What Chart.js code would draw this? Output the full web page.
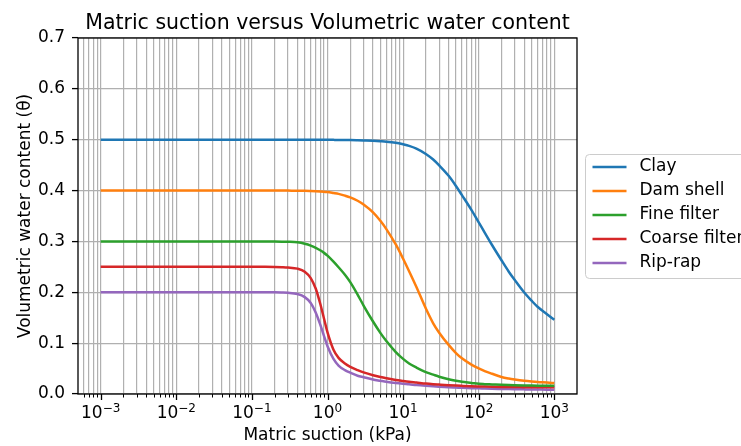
<!DOCTYPE html>
<html>
<head>
<meta charset="utf-8">
<title>Matric suction versus Volumetric water content</title>
<script src="https://cdn.jsdelivr.net/npm/chart.js@4.4.1/dist/chart.umd.min.js"></script>
<style>
  html, body { margin: 0; padding: 0; background: #fff; }
  #wrap { width: 741px; height: 446px; }
</style>
</head>
<body>
<div id="wrap"><canvas id="swcc" width="741" height="446"></canvas></div>
<script>
// Matric suction (kPa), shared by every soil curve
const suction = [0.001, 0.01, 0.1, 0.15, 0.2, 0.25, 0.3,
  0.4, 0.5, 0.6, 0.7, 0.8, 0.9,
  1, 1.2, 1.4, 1.7, 2,
  2.5, 3, 4, 5, 6, 8,
  10, 12, 15, 20, 25, 30,
  40, 50, 60, 80,
  100, 120, 150, 200, 250, 300,
  400, 500, 600, 800, 1000];

// Volumetric water content for each material
const clay = [0.5, 0.5, 0.5, 0.5, 0.5, 0.5, 0.5,
  0.5, 0.5, 0.5, 0.5, 0.4999, 0.4999,
  0.4998, 0.4997, 0.4996, 0.4994, 0.4993,
  0.4989, 0.4985, 0.4978, 0.497, 0.4962, 0.494,
  0.491, 0.488, 0.4825, 0.472, 0.461, 0.4495,
  0.429, 0.409, 0.391, 0.362,
  0.3375, 0.3175, 0.293, 0.263, 0.2405, 0.224,
  0.1995, 0.1835, 0.1715, 0.157, 0.146];
const damShell = [0.4, 0.4, 0.4, 0.4, 0.4, 0.4, 0.3999,
  0.3998, 0.3995, 0.399, 0.3985, 0.398, 0.3975,
  0.397, 0.3952, 0.3935, 0.390, 0.3865,
  0.380, 0.3725, 0.357, 0.3405, 0.3243, 0.294,
  0.266, 0.2415, 0.2105, 0.168, 0.139, 0.1205,
  0.0965, 0.0805, 0.0702, 0.0577,
  0.0502, 0.0451, 0.0398, 0.0335, 0.0304, 0.0285,
  0.026, 0.0245, 0.0235, 0.0225, 0.0215];
const fineFilter = [0.3, 0.3, 0.3, 0.2999, 0.2998, 0.2996, 0.2993,
  0.2982, 0.2955, 0.2919, 0.2875, 0.2826, 0.2775,
  0.272, 0.2602, 0.2492, 0.2345, 0.220,
  0.1955, 0.174, 0.1425, 0.1202, 0.1042, 0.0825,
  0.069, 0.060, 0.052, 0.043, 0.038, 0.034,
  0.029, 0.026, 0.024, 0.0218,
  0.020, 0.0194, 0.0188, 0.018, 0.0175, 0.0172,
  0.0168, 0.0165, 0.0163, 0.0161, 0.016];
const coarseFilter = [0.25, 0.25, 0.25, 0.25, 0.2498, 0.2494, 0.2488,
  0.2465, 0.2405, 0.228, 0.207, 0.178, 0.148,
  0.121, 0.087, 0.071, 0.060, 0.0535,
  0.047, 0.0425, 0.037, 0.0335, 0.031, 0.0275,
  0.0255, 0.024, 0.0225, 0.0205, 0.0193, 0.0185,
  0.0173, 0.0165, 0.016, 0.0153,
  0.0149, 0.0146, 0.0143, 0.014, 0.0138, 0.0137,
  0.0135, 0.0134, 0.0133, 0.0132, 0.0131];
const ripRap = [0.2, 0.2, 0.2, 0.2, 0.2, 0.1996, 0.199,
  0.1965, 0.1905, 0.179, 0.160, 0.137, 0.114,
  0.094, 0.069, 0.056, 0.047, 0.042,
  0.036, 0.033, 0.0285, 0.026, 0.024, 0.0215,
  0.020, 0.019, 0.0175, 0.016, 0.015, 0.0143,
  0.0133, 0.0127, 0.0122, 0.0115,
  0.0111, 0.0107, 0.0103, 0.0099, 0.0096, 0.0094,
  0.0091, 0.0089, 0.0088, 0.0086, 0.0085];

const seriesNames = ['Clay', 'Dam shell', 'Fine filter', 'Coarse filter', 'Rip-rap'];
const seriesValues = [clay, damShell, fineFilter, coarseFilter, ripRap];
const seriesColors = ['#1f77b4', '#ff7f0e', '#2ca02c', '#d62728', '#9467bd'];

// axis ticks
const decades = [-3, -2, -1, 0, 1, 2, 3];
const yTicks = [0, 0.1, 0.2, 0.3, 0.4, 0.5, 0.6, 0.7];

const chartTitle = 'Matric suction versus Volumetric water content';

const FONT = '"DejaVu Sans", "Liberation Sans", sans-serif';
Chart.defaults.font.family = FONT;
Chart.defaults.color = '#000';

const GRID = '#b0b0b0';

// grid on every 1..9 multiple of each decade, like a full log grid
function logGridTicks(scale) {
    const ticks = [];
    for (let e = -4; e <= 3; e++) {
        for (let m = 1; m <= 9; m++) {
            const v = m * Math.pow(10, e);
            if (v >= scale.min && v <= scale.max) {
                ticks.push({ value: v, major: m === 1 });
            }
        }
    }
    scale.ticks = ticks;
}

// title, frame, x tick marks with 10^n labels, and the legend right of the plot
const axesDecor = {
    id: 'axesDecor',
    afterDatasetsDraw(chart) {
        const { ctx, chartArea } = chart;
        const xs = chart.scales.x;
        ctx.save();

        // title centred over the plot area
        ctx.fillStyle = '#000';
        ctx.font = '20.5px ' + FONT;
        ctx.textAlign = 'center';
        ctx.textBaseline = 'alphabetic';
        ctx.fillText(chartTitle, (chartArea.left + chartArea.right) / 2, chartArea.top - 8.7);

        // spines
        ctx.strokeStyle = '#000';
        ctx.lineWidth = 1.3;
        ctx.strokeRect(chartArea.left, chartArea.top, chartArea.right - chartArea.left, chartArea.bottom - chartArea.top);

        // x tick marks, long for decades and short for the rest
        xs.ticks.forEach(t => {
            const px = Math.round(xs.getPixelForValue(t.value)) + 0.5;
            ctx.lineWidth = t.major ? 1.3 : 1;
            ctx.beginPath();
            ctx.moveTo(px, chartArea.bottom);
            ctx.lineTo(px, chartArea.bottom + (t.major ? 6 : 3.5));
            ctx.stroke();
        });

        // decade labels
        ctx.textAlign = 'left';
        decades.forEach(e => {
            const px = xs.getPixelForValue(Math.pow(10, e));
            const base = '10';
            const exp = (e < 0 ? '\u2212' : '') + Math.abs(e);
            ctx.font = '17px ' + FONT;
            const wb = ctx.measureText(base).width;
            ctx.font = '12px ' + FONT;
            const we = ctx.measureText(exp).width;
            const x0 = px - (wb + we) / 2;
            ctx.font = '17px ' + FONT;
            ctx.fillText(base, x0, chartArea.bottom + 24);
            ctx.font = '12px ' + FONT;
            ctx.fillText(exp, x0 + wb, chartArea.bottom + 17.5);
        });

        // legend
        const lx = chartArea.right + 8.5;
        const ly = chartArea.top + 116.5;
        const lw = 180, lh = 124, r = 4;
        ctx.beginPath();
        ctx.moveTo(lx + r, ly);
        ctx.lineTo(lx + lw - r, ly);
        ctx.arcTo(lx + lw, ly, lx + lw, ly + r, r);
        ctx.lineTo(lx + lw, ly + lh - r);
        ctx.arcTo(lx + lw, ly + lh, lx + lw - r, ly + lh, r);
        ctx.lineTo(lx + r, ly + lh);
        ctx.arcTo(lx, ly + lh, lx, ly + lh - r, r);
        ctx.lineTo(lx, ly + r);
        ctx.arcTo(lx, ly, lx + r, ly, r);
        ctx.closePath();
        ctx.fillStyle = 'rgba(255,255,255,0.8)';
        ctx.fill();
        ctx.strokeStyle = '#cccccc';
        ctx.lineWidth = 1;
        ctx.stroke();

        ctx.font = '17px ' + FONT;
        ctx.textBaseline = 'middle';
        chart.data.datasets.forEach((ds, i) => {
            const cy = ly + 12.5 + i * 24;
            ctx.strokeStyle = ds.borderColor;
            ctx.lineWidth = 2.5;
            ctx.beginPath();
            ctx.moveTo(lx + 7, cy);
            ctx.lineTo(lx + 41, cy);
            ctx.stroke();
            ctx.fillStyle = '#000';
            ctx.fillText(ds.label, lx + 54, cy);
        });

        ctx.restore();
    }
};

const datasets = seriesNames.map((name, i) => ({
    label: name,
    data: suction.map((s, j) => ({ x: s, y: seriesValues[i][j] })),
    borderColor: seriesColors[i],
    backgroundColor: seriesColors[i],
    borderWidth: 2.5,
    pointRadius: 0,
    cubicInterpolationMode: 'monotone',
    fill: false
}));

new Chart(document.getElementById('swcc'), {
    type: 'line',
    data: { datasets },
    options: {
        responsive: false,
        animation: false,
        devicePixelRatio: 1,
        layout: { padding: { top: 38, right: 164, bottom: 0, left: 0 } },
        plugins: {
            legend: { display: false },
            tooltip: { enabled: false },
            title: { display: false }
        },
        scales: {
            x: {
                type: 'logarithmic',
                min: Math.pow(10, -3.3),
                max: Math.pow(10, 3.3),
                afterBuildTicks: logGridTicks,
                afterFit: s => { s.height = 52; },
                grid: { color: GRID, lineWidth: 1.2, drawTicks: false },
                border: { display: false },
                ticks: { display: false },
                title: {
                    display: true,
                    text: 'Matric suction (kPa)',
                    font: { size: 17 },
                    padding: { top: 0, bottom: 0 }
                }
            },
            y: {
                type: 'linear',
                min: 0,
                max: 0.7,
                afterBuildTicks: s => { s.ticks = yTicks.map(v => ({ value: v })); },
                afterFit: s => { s.width = 78; },
                grid: { color: GRID, lineWidth: 1.2, tickColor: '#000', tickLength: 6, tickWidth: 1.3 },
                border: { display: false },
                ticks: { font: { size: 17 }, padding: 7, callback: v => v.toFixed(1) },
                title: {
                    display: true,
                    text: 'Volumetric water content (\u03b8)',
                    font: { size: 17 },
                    padding: { top: 15.8, bottom: 0 }
                }
            }
        }
    },
    plugins: [axesDecor]
});
</script>
</body>
</html>
